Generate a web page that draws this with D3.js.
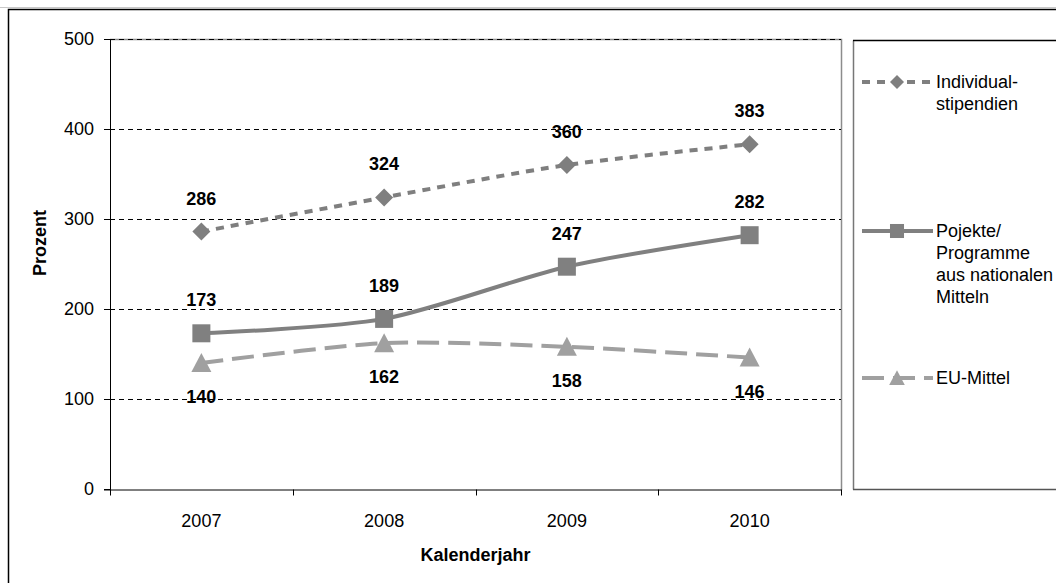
<!DOCTYPE html>
<html>
<head>
<meta charset="utf-8">
<script src="https://cdn.jsdelivr.net/npm/d3@7"></script>
<style>
  body { margin: 0; background: #fff; }
  svg { display: block; font-family: "Liberation Sans", Arial, sans-serif; }
</style>
</head>
<body>
<div id="chart"></div>
<script>
// data
const years = ['2007', '2008', '2009', '2010'];
const individual = [286, 324, 360, 383];
const projekte = [173, 189, 247, 282];
const euMittel = [140, 162, 158, 146];
const yTicks = [0, 100, 200, 300, 400, 500];

const series = [
  { name: ['Individual-', 'stipendien'], values: individual, color: '#7f7f7f', dash: '8,7', marker: 'diamond', labelPos: 'above', legendY: 82 },
  { name: ['Pojekte/', 'Programme', 'aus nationalen', 'Mitteln'], values: projekte, color: '#808080', dash: null, marker: 'square', labelPos: 'above', legendY: 231 },
  { name: ['EU-Mittel'], values: euMittel, color: '#a0a0a0', dash: '22,9', marker: 'triangle', labelPos: 'below', legendY: 378 }
];

const width = 1056;
const height = 583;
const plot = { left: 110, right: 841, top: 39, bottom: 490 };
const FONT = '"Liberation Sans", Arial, sans-serif';

const svg = d3.select('#chart')
  .append('svg')
  .attr('width', width)
  .attr('height', height);

// outer frame
svg.append('line')
  .attr('x1', 0).attr('x2', width).attr('y1', 7.5).attr('y2', 7.5)
  .attr('stroke', '#c8c8c8');
svg.append('rect')
  .attr('x', 8.5).attr('y', 9.5)
  .attr('width', 1100).attr('height', 600)
  .attr('fill', 'none').attr('stroke', '#000').attr('stroke-width', 1.5);

const x = d3.scaleBand().domain(years).range([plot.left, plot.right]);
const y = d3.scaleLinear().domain([0, 500]).range([plot.bottom - 1, plot.top]);

// plot border (gray)
svg.append('path')
  .attr('d', `M${plot.left},${plot.top + 0.5}H${plot.right + 0.5}V${plot.bottom}`)
  .attr('fill', 'none').attr('stroke', '#8c8c8c').attr('stroke-width', 1.5);

// gridlines
svg.append('g')
  .selectAll('line')
  .data(yTicks.filter(d => d > 0))
  .join('line')
  .attr('x1', plot.left).attr('x2', plot.right)
  .attr('y1', d => Math.round(y(d)) + 0.5).attr('y2', d => Math.round(y(d)) + 0.5)
  .attr('stroke', '#000').attr('stroke-width', 1)
  .attr('stroke-dasharray', '5,4');

// y axis
const yAxis = svg.append('g')
  .attr('transform', `translate(${plot.left},0)`)
  .call(d3.axisLeft(y).tickValues(yTicks).tickSize(6).tickPadding(10));
yAxis.select('.domain').attr('stroke', '#000').attr('d', `M0.5,${plot.top}V${plot.bottom}`);
yAxis.selectAll('.tick line').attr('stroke', '#000');
yAxis.selectAll('.tick text')
  .attr('font-size', 18).attr('fill', '#000')
  .attr('font-family', FONT);

// x axis
const xAxis = svg.append('g')
  .attr('transform', `translate(0,${plot.bottom - 0.5})`)
  .call(d3.axisBottom(x).tickSize(0).tickPadding(0));
xAxis.select('.domain').attr('stroke', '#000').attr('d', `M${plot.left - 6},0.5H${plot.right}`);
xAxis.selectAll('.tick text')
  .attr('dy', 0).attr('y', 37)
  .attr('font-size', 18).attr('fill', '#000')
  .attr('font-family', FONT);
// category boundary ticks
xAxis.append('g')
  .selectAll('line')
  .data(years.map(d => x(d)).concat([plot.right]))
  .join('line')
  .attr('x1', d => Math.round(d) + 0.5).attr('x2', d => Math.round(d) + 0.5)
  .attr('y1', 0).attr('y2', 6)
  .attr('stroke', '#000');

// axis titles
svg.append('text')
  .attr('x', (plot.left + plot.right) / 2).attr('y', 561)
  .attr('text-anchor', 'middle')
  .attr('font-size', 18).attr('font-weight', 'bold')
  .text('Kalenderjahr');

svg.append('text')
  .attr('transform', 'translate(46,243) rotate(-90)')
  .attr('text-anchor', 'middle')
  .attr('font-size', 18).attr('font-weight', 'bold')
  .text('Prozent');

// markers
function drawMarker(g, type, color) {
  if (type === 'diamond') {
    g.append('path').attr('d', 'M0,-9L9,0L0,9L-9,0Z').attr('fill', color);
  } else if (type === 'square') {
    g.append('rect').attr('x', -9).attr('y', -9).attr('width', 18).attr('height', 18).attr('fill', color);
  } else {
    g.append('path').attr('d', 'M0,-10L10,9L-10,9Z').attr('fill', color);
  }
}

const cx = d => x(d) + x.bandwidth() / 2;

const line = d3.line()
  .x(d => cx(d.year))
  .y(d => y(d.value))
  .curve(d3.curveCardinal.tension(0.2));

for (const s of series) {
  const pts = years.map((yr, i) => ({ year: yr, value: s.values[i] }));

  svg.append('path')
    .datum(pts)
    .attr('d', line)
    .attr('fill', 'none')
    .attr('stroke', s.color)
    .attr('stroke-width', 4)
    .attr('stroke-dasharray', s.dash);

  const m = svg.append('g')
    .selectAll('g')
    .data(pts)
    .join('g')
    .attr('transform', d => `translate(${cx(d.year)},${y(d.value)})`);
  m.each(function () { drawMarker(d3.select(this), s.marker, s.color); });

  // data labels
  svg.append('g')
    .selectAll('text')
    .data(pts)
    .join('text')
    .attr('x', d => cx(d.year))
    .attr('y', d => y(d.value) + (s.labelPos === 'above' ? -27 : 40))
    .attr('text-anchor', 'middle')
    .attr('font-size', 18).attr('font-weight', 'bold')
    .attr('fill', '#000')
    .text(d => d.value);
}

// legend box
svg.append('path')
  .attr('d', 'M853.5,489.5V40.5')
  .attr('fill', 'none').attr('stroke', '#777').attr('stroke-width', 1.5);
svg.append('path')
  .attr('d', 'M853,40.5H1100')
  .attr('fill', 'none').attr('stroke', '#000').attr('stroke-width', 1.5);
svg.append('path')
  .attr('d', 'M853,489.5H1100')
  .attr('fill', 'none').attr('stroke', '#555').attr('stroke-width', 1.5);

const legend = svg.append('g');
for (const s of series) {
  const g = legend.append('g').attr('transform', `translate(0,${s.legendY})`);
  g.append('line')
    .attr('x1', 862).attr('x2', 933)
    .attr('y1', 0).attr('y2', 0)
    .attr('stroke', s.color).attr('stroke-width', 4)
    .attr('stroke-dasharray', s.dash);
  const mk = g.append('g').attr('transform', 'translate(897,0) scale(0.78)');
  drawMarker(mk, s.marker, s.color);
  g.append('g')
    .selectAll('text')
    .data(s.name)
    .join('text')
    .attr('x', 936)
    .attr('y', (d, i) => i * 22 + 6)
    .attr('font-size', 18)
    .attr('fill', '#000')
    .text(d => d);
}
</script>
</body>
</html>
